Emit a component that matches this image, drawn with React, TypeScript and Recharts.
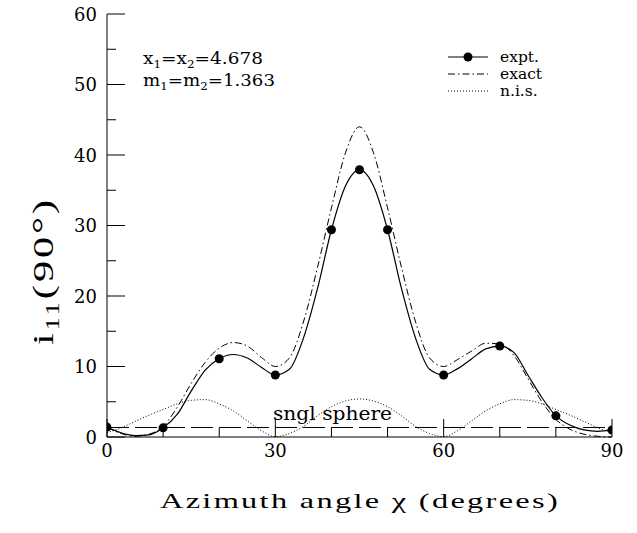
import {
	ComposedChart,
	Line,
	Scatter,
	XAxis,
	YAxis,
	ReferenceLine,
	Customized,
} from 'recharts'

// sampled curves, every 2.5 degrees
const angles = [
	0, 2.5, 5, 7.5, 10, 12.5, 15, 17.5, 20, 22.5, 25, 27.5, 30, 32.5, 35, 37.5,
	40, 42.5, 45, 47.5, 50, 52.5, 55, 57.5, 60, 62.5, 65, 67.5, 70, 72.5, 75,
	77.5, 80, 82.5, 85, 87.5, 90,
]
const exptFit = [
	1.4, 0.6, 0.2, 0.3, 1.3, 3.2, 6.5, 9.5, 11.1, 11.7, 11.2, 9.9, 8.8, 9.6,
	14.0, 21.0, 29.4, 35.6, 37.9, 35.6, 29.4, 21.0, 14.0, 9.6, 8.8, 9.7, 11.1,
	12.5, 12.9, 12.0, 8.8, 5.6, 3.0, 1.7, 1.0, 0.8, 1.0,
]
const exact = [
	1.4, 0.5, 0.1, 0.4, 1.5, 4.2, 7.6, 10.6, 12.6, 13.4, 12.9, 11.3, 10.0, 11.2,
	16.3, 24.0, 32.5, 40.3, 44.0, 40.3, 32.5, 24.0, 16.3, 11.2, 10.0, 11.0, 12.2,
	13.3, 13.2, 11.6, 8.3, 5.0, 2.5, 1.1, 0.4, 0.1, 0.0,
]
const nis = [
	0.6, 1.3, 2.2, 3.1, 3.9, 4.7, 5.2, 5.3, 4.7, 3.7, 2.3, 0.9, 0.05, 0.5, 1.5,
	3.0, 4.3, 5.1, 5.4, 5.1, 4.3, 3.0, 1.5, 0.5, 0.05, 0.9, 2.3, 3.7, 4.7, 5.3,
	5.2, 4.7, 3.9, 3.1, 2.2, 1.3, 0.6,
]

// measured points
const pointAngles = [0, 10, 20, 30, 40, 45, 50, 60, 70, 80, 90]
const pointValues = [1.4, 1.3, 11.1, 8.8, 29.4, 37.9, 29.4, 8.8, 12.9, 3.0, 1.0]

const singleSphere = 1.35

const xTicks = [0, 10, 20, 30, 40, 50, 60, 70, 80, 90]
const xMajor = [0, 30, 60, 90]
const yTicks = [0, 5, 10, 15, 20, 25, 30, 35, 40, 45, 50, 55, 60]
const yMajor = [0, 10, 20, 30, 40, 50, 60]

const FONT = 'DejaVu Serif'
const TITLE_FONT = 'Liberation Serif'
const MAJOR = 18
const MINOR = 9

const rows = angles.map((x, i) => ({
	x,
	expt: exptFit[i],
	exact: exact[i],
	nis: nis[i],
}))
const points = pointAngles.map((x, i) => ({ x, y: pointValues[i] }))

function BottomTick(props: any) {
	const { x, y, payload } = props
	const major = xMajor.includes(payload.value)
	return (
		<g>
			<line x1={x} y1={y} x2={x} y2={y - (major ? MAJOR : MINOR)} stroke="#000" />
			{major && (
				<text x={x} y={y + 20} textAnchor="middle" fontFamily={FONT} fontSize={18} fill="#000">
					{payload.value}
				</text>
			)}
		</g>
	)
}

function TopTick(props: any) {
	const { x, y, payload } = props
	const major = xMajor.includes(payload.value)
	return <line x1={x} y1={y} x2={x} y2={y + (major ? MAJOR : MINOR)} stroke="#000" />
}

function LeftTick(props: any) {
	const { x, y, payload } = props
	const major = yMajor.includes(payload.value)
	return (
		<g>
			<line x1={x} y1={y} x2={x + (major ? MAJOR : MINOR)} y2={y} stroke="#000" />
			{major && (
				<text x={x - 10} y={y + 6.5} textAnchor="end" fontFamily={FONT} fontSize={18} fill="#000">
					{payload.value}
				</text>
			)}
		</g>
	)
}

function RightTick(props: any) {
	const { x, y, payload } = props
	const major = yMajor.includes(payload.value)
	return <line x1={x} y1={y} x2={x - (major ? MAJOR : MINOR)} y2={y} stroke="#000" />
}

function Notes() {
	return (
		<g fontFamily={FONT} fill="#000">
			<text x={143} y={64} fontSize={17} textLength={120} lengthAdjust="spacingAndGlyphs">
				x<tspan dy={4} fontSize={11}>1</tspan>
				<tspan dy={-4}>=x</tspan>
				<tspan dy={4} fontSize={11}>2</tspan>
				<tspan dy={-4}>=4.678</tspan>
			</text>
			<text x={143} y={86} fontSize={17} textLength={132} lengthAdjust="spacingAndGlyphs">
				m<tspan dy={4} fontSize={11}>1</tspan>
				<tspan dy={-4}>=m</tspan>
				<tspan dy={4} fontSize={11}>2</tspan>
				<tspan dy={-4}>=1.363</tspan>
			</text>

			{/* legend */}
			<line x1={448} x2={488} y1={57} y2={57} stroke="#000" strokeWidth={1.2} />
			<circle cx={468} cy={57} r={4.5} fill="#000" />
			<text x={500} y={62} fontSize={15.5}>expt.</text>
			<line x1={448} x2={488} y1={74} y2={74} stroke="#000" strokeDasharray="7 3 1.5 3" />
			<text x={500} y={79} fontSize={15.5}>exact</text>
			<line x1={448} x2={488} y1={91} y2={91} stroke="#000" strokeDasharray="1 2" />
			<text x={500} y={96} fontSize={15.5}>n.i.s.</text>

			<text x={273} y={420} fontSize={18} textLength={119} lengthAdjust="spacingAndGlyphs">
				sngl sphere
			</text>

			<text
				x={160}
				y={508}
				fontFamily={TITLE_FONT}
				fontSize={21}
				letterSpacing={1.5}
				textLength={400}
				lengthAdjust="spacingAndGlyphs"
			>
				Azimuth  angle  χ  (degrees)
			</text>
			<text
				transform="translate(53 345) rotate(-90)"
				fontFamily={TITLE_FONT}
				fontSize={29}
				letterSpacing={2}
				textLength={148}
				lengthAdjust="spacingAndGlyphs"
			>
				i<tspan dy={6} fontSize={18}>11</tspan>
				<tspan dy={-6}>(90°)</tspan>
			</text>
		</g>
	)
}

export default function App() {
	return (
		<div style={{ position: 'absolute', left: 0, top: 0 }}>
			<ComposedChart
				width={637}
				height={533}
				data={rows}
				margin={{ top: 14, right: 25, bottom: 46, left: 0 }}
			>
				<XAxis
					dataKey="x"
					type="number"
					domain={[0, 90]}
					ticks={xTicks}
					interval={0}
					allowDataOverflow
					height={50}
					tickSize={0}
					tickMargin={0}
					tickLine={false}
					tick={BottomTick}
					axisLine={{ stroke: '#000' }}
				/>
				<XAxis
					xAxisId="top"
					orientation="top"
					dataKey="x"
					type="number"
					domain={[0, 90]}
					ticks={xTicks}
					interval={0}
					height={0}
					tickSize={0}
					tickMargin={0}
					tickLine={false}
					tick={TopTick}
					axisLine={{ stroke: '#000' }}
				/>
				<YAxis
					type="number"
					domain={[0, 60]}
					ticks={yTicks}
					interval={0}
					width={107}
					tickSize={0}
					tickMargin={0}
					tickLine={false}
					tick={LeftTick}
					axisLine={{ stroke: '#000' }}
				/>
				<YAxis
					yAxisId="right"
					orientation="right"
					type="number"
					domain={[0, 60]}
					ticks={yTicks}
					interval={0}
					width={0}
					tickSize={0}
					tickMargin={0}
					tickLine={false}
					tick={RightTick}
					axisLine={{ stroke: '#000' }}
				/>

				<ReferenceLine y={singleSphere} stroke="#000" strokeDasharray="22 6" />

				<Line
					type="monotone"
					dataKey="nis"
					stroke="#000"
					strokeWidth={1}
					strokeDasharray="1 2"
					dot={false}
					isAnimationActive={false}
				/>
				<Line
					type="monotone"
					dataKey="exact"
					stroke="#000"
					strokeWidth={1}
					strokeDasharray="7 3 1.5 3"
					dot={false}
					isAnimationActive={false}
				/>
				<Line
					type="monotone"
					dataKey="expt"
					stroke="#000"
					strokeWidth={1.2}
					dot={false}
					isAnimationActive={false}
				/>
				<Scatter data={points} dataKey="y" fill="#000" isAnimationActive={false} />

				<Customized component={<Notes />} />
			</ComposedChart>
		</div>
	)
}
